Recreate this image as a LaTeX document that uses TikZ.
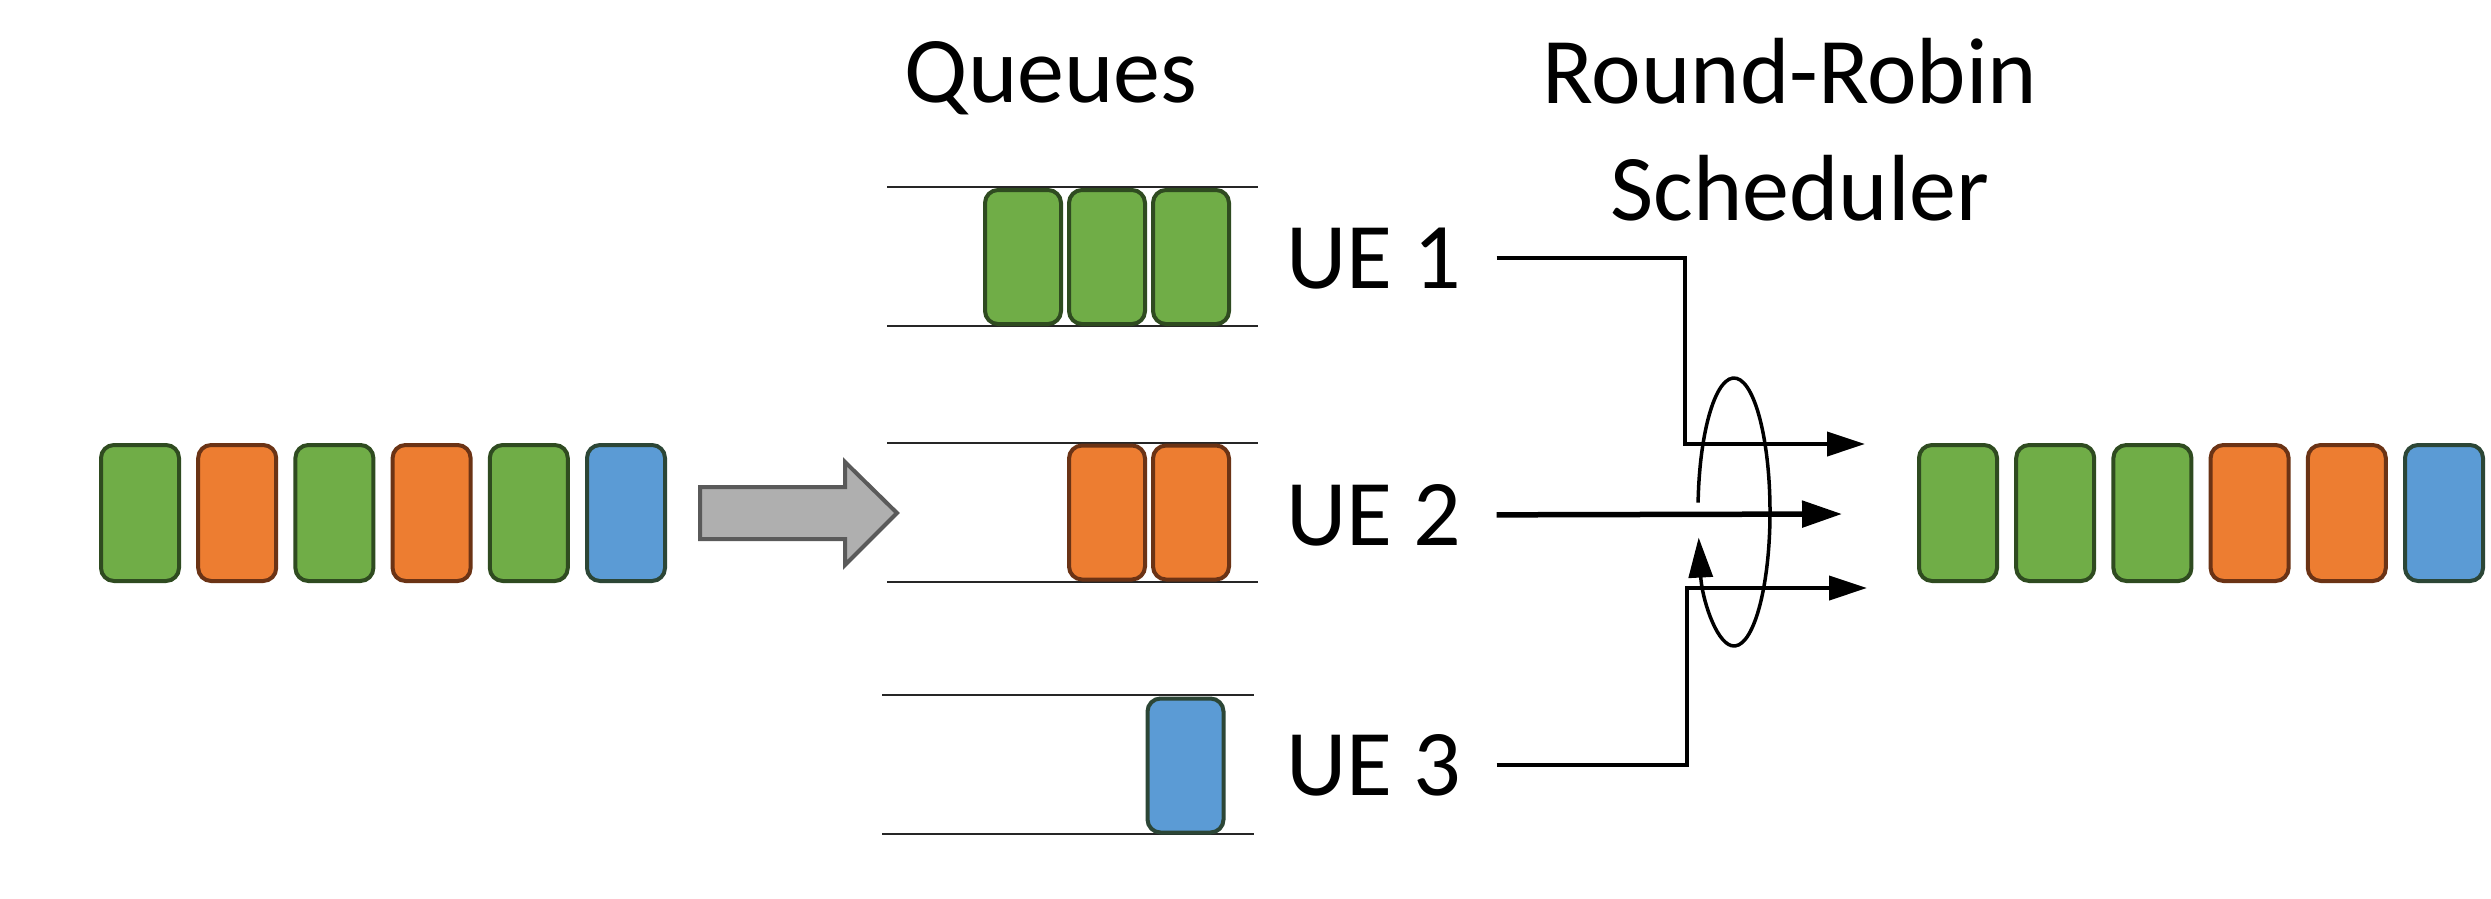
\documentclass[tikz,border=0pt]{standalone}
\usepackage{fontspec}
\setmainfont{Carlito}
\usetikzlibrary{arrows.meta}
\definecolor{pgreen}{HTML}{70AD47}
\definecolor{pgreenb}{HTML}{2F4B20}
\definecolor{porange}{HTML}{ED7D31}
\definecolor{porangeb}{HTML}{6B3315}
\definecolor{pblue}{HTML}{5B9BD5}
\definecolor{pblueb}{HTML}{2C4636}
\definecolor{garrow}{HTML}{AFAFAF}
\definecolor{garrowb}{HTML}{5A5A5A}
\tikzset{
  pkt/.style={draw, line width=4pt, rounded corners=13pt, minimum width=78pt, minimum height=136pt, inner sep=0pt},
  qpkt/.style={draw, line width=4pt, rounded corners=13pt, minimum width=76pt, minimum height=134pt, inner sep=0pt},
  gp/.style={fill=pgreen, draw=pgreenb},
  op/.style={fill=porange, draw=porangeb},
  bp/.style={fill=pblue, draw=pblueb},
  qline/.style={line width=2.2pt, black!85},
  lbl/.style={inner sep=0pt, font=\fontsize{94}{113}\selectfont},
  conn/.style={line width=4pt, -{Triangle[length=38pt,width=24pt]}},
}
\begin{document}
\begin{tikzpicture}[x=1pt,y=-1pt]
\useasboundingbox[fill=white] (0,0) rectangle (2491,899);

% input packets
\foreach \c [count=\i from 0] in {gp,op,gp,op,gp,bp}
  \node[pkt,\c] (in\i) at ({140+97.2*\i},513) {};

% gray arrow
\draw[line width=4pt, draw=garrowb, fill=garrow, line join=miter]
  (700,487) -- (845,487) -- (845,462) -- (897,513) -- (845,565) -- (845,539) -- (700,539) -- cycle;

% queue lines
\draw[qline] (887,187) -- (1258,187);
\draw[qline] (887,326) -- (1258,326);
\draw[qline] (887,443) -- (1258,443);
\draw[qline] (887,582) -- (1258,582);
\draw[qline] (882,695) -- (1254,695);
\draw[qline] (882,834) -- (1254,834);

% queue packets
\node[qpkt,gp] (q1a) at (1023,257) {};
\node[qpkt,gp] (q1b) at (1107,257) {};
\node[qpkt,gp] (q1c) at (1191,257) {};
\node[qpkt,op] (q2a) at (1107,512.5) {};
\node[qpkt,op] (q2b) at (1191,512.5) {};
\node[qpkt,bp] (q3a) at (1185.5,765.5) {};

% titles
\node[lbl, anchor=base] (tq) at (1051,102) {Queues};
\node[lbl, anchor=base] (trr) at (1790,103) {Round-Robin};
\node[lbl, anchor=base] (tsch) at (1800,220) {Scheduler};

% UE labels
\node[lbl, anchor=base west] (ue1) at (1286,288) {UE 1};
\node[lbl, anchor=base west] (ue2) at (1286,545) {UE 2};
\node[lbl, anchor=base west] (ue3) at (1286,795) {UE 3};

% arrow end points
\coordinate (o1) at (1865,444);
\coordinate (o2) at (1842,514);
\coordinate (o3) at (1867,588);

\draw[conn] ([xshift=35pt]ue1.east) -| (1685,444) -- (o1);
\draw[conn, line width=5.5pt, -{Triangle[length=40pt,width=26pt]}] ([xshift=35pt]ue2.east) -- (o2);
\draw[conn] ([xshift=35pt]ue3.east) -| (1687,588) -- (o3);

% round robin ellipse
\draw[line width=3.5pt, -{Triangle[length=40pt,width=24pt]}]
  (1734,512) ++(184:36 and 134) arc[start angle=184, end angle=529, x radius=36, y radius=134];

% output packets
\foreach \c [count=\i from 0] in {gp,gp,gp,op,op,bp}
  \node[pkt,\c] (out\i) at ({1958+97.2*\i},513) {};
\end{tikzpicture}
\end{document}
